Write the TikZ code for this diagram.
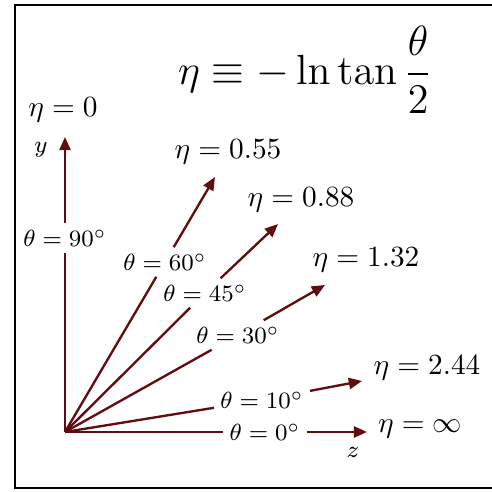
\documentclass[tikz,border=0pt]{standalone}
\usepackage{amsmath,amssymb,tikz}
\usetikzlibrary{arrows.meta,calc}
\definecolor{rayR}{RGB}{98,12,16}

\begin{document}
\begin{tikzpicture}[x=0.012cm,y=0.012cm,>={Triangle[length=4.5pt,width=3.8pt]},
  ray/.style={rayR,line width=0.8pt},
  tlab/.style={font=\footnotesize,inner sep=2pt},
  elab/.style={font=\normalsize,inner sep=1pt}]
\useasboundingbox (0,0) rectangle (492,492);
\draw[line width=0.7pt] (495,487)--(15,487)--(15,4)--(495,4);
\node[inner sep=0pt] (eqn) at (305,422) {\fontsize{15.3}{18}\selectfont$\displaystyle\eta\equiv-\ln\tan\frac{\theta}{2}$};
\coordinate (O) at (65,60);
\node[tlab] (t90) at (65,254) {$\theta=90^\circ$};
\node[tlab] (t60) at (165,230) {$\theta=60^\circ$};
\node[tlab] (t45) at (205,199) {$\theta=45^\circ$};
\node[tlab] (t30) at (238,157) {$\theta=30^\circ$};
\node[tlab] (t10) at (262,92) {$\theta=10^\circ$};
\node[tlab] (t0) at (265,60) {$\theta=0^\circ$};
\coordinate (a90) at (65,355); \coordinate (a60) at (215,315); \coordinate (a45) at (278,268);
\coordinate (a30) at (325,207); \coordinate (a10) at (362,111); \coordinate (a0) at (367,60);
\foreach \t in {90,60,45,30,10,0}{
  \draw[ray] (O)--(t\t);
  \draw[ray,->] (t\t)--(a\t);
}
\node[elab] (e90) at (63,382) {$\eta=0$};
\node[elab] (e60) at (228,340) {$\eta=0.55$};
\node[elab] (e45) at (301,292) {$\eta=0.88$};
\node[elab] (e30) at (366,232) {$\eta=1.32$};
\node[elab] (e10) at (427,124) {$\eta=2.44$};
\node[elab] (e0) at (420,63) {$\eta=\infty$};
\node[font=\footnotesize] (ylab) at (41,342) {$y$};
\node[font=\footnotesize] (zlab) at (353,40) {$z$};
\end{tikzpicture}
\end{document}
